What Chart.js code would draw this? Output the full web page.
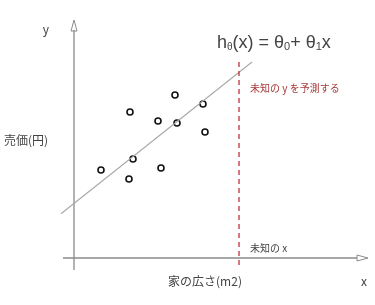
<!DOCTYPE html>
<html>
<head>
<meta charset="utf-8">
<script src="https://cdn.jsdelivr.net/npm/chart.js@4"></script>
<style>
html,body{margin:0;padding:0;background:#fff;}
#wrap{width:375px;height:305px;position:relative;}
</style>
</head>
<body>
<div id="wrap"><canvas id="c" width="375" height="305"></canvas></div>
<script>
// Data (abstract units: x = house size, y = price)
const pointX = [27, 56, 55, 59, 84, 87, 101, 103, 129, 131];
const pointY = [88, 146, 79, 99, 137, 90, 163, 135, 154, 126];
const lineX = [-13, 178];
const lineY = [44.3, 196];
const unknownX = 165;
const dashY = [-7, 196];
const axisXRange = [-11, 294];
const axisYRange = [-12, 238];
const labels = {
  yAxis: '売価(円)',
  xAxis: '家の広さ(m2)',
  yLetter: 'y',
  xLetter: 'x',
  predictY: '未知の y を予測する',
  unknownXText: '未知の x'
};

const JP = '"Noto Sans CJK JP", "Noto Sans", sans-serif';
const LAT = '"Liberation Sans", Arial, sans-serif';

const overlay = {
  id: 'overlay',
  beforeDatasetsDraw(chart) {
    const ctx = chart.ctx, xs = chart.scales.x, ys = chart.scales.y;
    ctx.save();
    ctx.strokeStyle = '#8a8a8a';
    ctx.lineWidth = 1.3;
    // y axis
    const x0 = xs.getPixelForValue(0);
    const yb = ys.getPixelForValue(axisYRange[0]);
    const yt = ys.getPixelForValue(axisYRange[1]);
    ctx.beginPath(); ctx.moveTo(x0, yb); ctx.lineTo(x0, yt + 10); ctx.stroke();
    ctx.lineWidth = 1;
    ctx.beginPath();
    ctx.moveTo(x0, yt); ctx.lineTo(x0 + 3, yt + 11); ctx.lineTo(x0 - 3, yt + 11); ctx.closePath(); ctx.stroke();
    // x axis
    ctx.lineWidth = 1.3;
    const y0 = ys.getPixelForValue(0);
    const xl = xs.getPixelForValue(axisXRange[0]);
    const xr = xs.getPixelForValue(axisXRange[1]);
    ctx.beginPath(); ctx.moveTo(xl, y0); ctx.lineTo(xr - 11, y0); ctx.stroke();
    ctx.lineWidth = 1;
    ctx.beginPath();
    ctx.moveTo(xr, y0); ctx.lineTo(xr - 11, y0 - 3); ctx.lineTo(xr - 11, y0 + 3); ctx.closePath(); ctx.stroke();
    ctx.restore();
  },
  afterDatasetsDraw(chart) {
    const ctx = chart.ctx;
    ctx.save();
    ctx.textBaseline = 'middle';
    ctx.fillStyle = '#444';
    ctx.font = '12px ' + JP;
    ctx.textAlign = 'center';
    ctx.fillText(labels.yLetter, 46, 29);
    ctx.textAlign = 'left';
    ctx.fillText(labels.yAxis, 4, 140);
    ctx.textAlign = 'center';
    ctx.fillText(labels.xAxis, 205, 281);
    ctx.fillText(labels.xLetter, 364, 281);
    ctx.textAlign = 'left';
    ctx.font = '10px ' + JP;
    ctx.fillText(labels.unknownXText, 250, 248);
    ctx.fillStyle = '#a83a3a';
    ctx.fillText(labels.predictY, 250, 88);
    // formula
    ctx.fillStyle = '#444';
    ctx.textBaseline = 'alphabetic';
    const base = 48;
    let x = 217;
    const parts = [
      ['h', 18, 0], ['θ', 10, 2], ['(x) = θ', 18, 0], ['0', 11, 2], ['+ θ', 18, 0], ['1', 11, 2], ['x', 18, 0]
    ];
    for (const [t, s, dy] of parts) {
      ctx.font = s + 'px ' + LAT;
      ctx.fillText(t, x, base + dy);
      x += ctx.measureText(t).width;
    }
    ctx.restore();
  }
};

new Chart(document.getElementById('c'), {
  type: 'scatter',
  data: {
    datasets: [
      {
        label: 'unknown',
        data: dashY.map(v => ({x: unknownX, y: v})),
        showLine: true,
        borderColor: '#c0303a',
        borderWidth: 1.3,
        borderDash: [5, 4],
        pointRadius: 0
      },
      {
        label: 'fit',
        data: lineX.map((v, i) => ({x: v, y: lineY[i]})),
        showLine: true,
        borderColor: '#a8a8a8',
        borderWidth: 1.1,
        pointRadius: 0
      },
      {
        label: 'data',
        data: pointX.map((v, i) => ({x: v, y: pointY[i]})),
        pointRadius: 3,
        pointBorderWidth: 1.6,
        pointBorderColor: '#111',
        pointBackgroundColor: '#fff'
      }
    ]
  },
  options: {
    responsive: false,
    animation: false,
    layout: {padding: 0, autoPadding: false},
    plugins: {legend: {display: false}, tooltip: {enabled: false}},
    scales: {
      x: {type: 'linear', min: -74, max: 301, display: false},
      y: {type: 'linear', min: -47, max: 258, display: false}
    }
  },
  plugins: [overlay]
});
</script>
</body>
</html>
